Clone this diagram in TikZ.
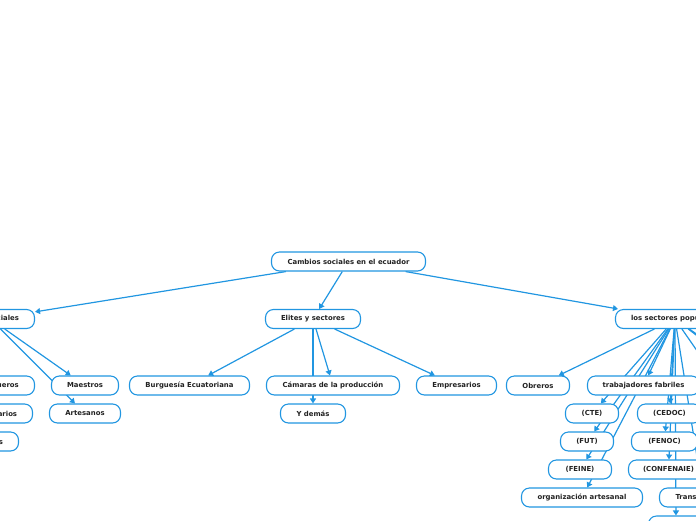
\documentclass[tikz,border=0pt]{standalone}
\usepackage{fontspec}
\setmainfont{DejaVu Sans}
\usetikzlibrary{arrows.meta,backgrounds}
\definecolor{mapblue}{RGB}{33,150,225}
\definecolor{maptext}{RGB}{34,34,34}
\tikzset{
	idea/.style={draw=mapblue, fill=white, rounded corners=8pt, line width=1.1pt,
		minimum height=19pt, inner xsep=4pt, inner ysep=0pt, text=maptext,
		font=\bfseries\fontsize{6.9}{8}\selectfont},
	link/.style={draw=mapblue, line width=1.2pt, -{Triangle[length=5pt,width=6pt]}}
}
\begin{document}
\begin{tikzpicture}[x=1pt,y=-1pt]
	\useasboundingbox (0,0) rectangle (696,520);
	\node[idea, minimum width=154pt] (cambios) at (348.5,261.5) {Cambios sociales en el ecuador};
	\node[idea, minimum width=88pt] (capas) at (-9.5,319) {Capas sociales};
	\node[idea, minimum width=95pt] (elites) at (313,319) {Elites y sectores};
	\node[idea, minimum width=119pt] (populares) at (675,319) {los sectores populares};
	\node[idea, minimum width=73pt] (banqueros) at (-2,385.5) {Banqueros};
	\node[idea, minimum width=67pt] (maestros) at (85,385.5) {Maestros};
	\node[idea, minimum width=120pt] (burguesia) at (189.5,385.5) {Burguesía Ecuatoriana};
	\node[idea, minimum width=133pt] (camaras) at (333,385.5) {Cámaras de la producción};
	\node[idea, minimum width=80pt] (empresarios) at (456.5,385.5) {Empresarios};
	\node[idea, minimum width=63pt] (obreros) at (538,385.5) {Obreros};
	\node[idea, minimum width=112pt] (fabriles) at (643.5,385.5) {trabajadores fabriles};
	\node[idea, minimum width=69pt] (bancarios) at (-2,413.5) {Bancarios};
	\node[idea, minimum width=71pt] (artesanos) at (85,413.5) {Artesanos};
	\node[idea, minimum width=65pt] (demas) at (313,413.5) {Y demás};
	\node[idea, minimum width=53pt] (cte) at (592,413.5) {(CTE)};
	\node[idea, minimum width=64pt] (cedoc) at (669.5,413.5) {(CEDOC)};
	\node[idea, minimum width=77pt] (estudiantes) at (-20,441.5) {Estudiantes};
	\node[idea, minimum width=53pt] (fut) at (587,441.5) {(FUT)};
	\node[idea, minimum width=66pt] (fenoc) at (664.5,441.5) {(FENOC)};
	\node[idea, minimum width=63pt] (feine) at (580,469.5) {(FEINE)};
	\node[idea, minimum width=80pt] (confenaie) at (668.5,469.5) {(CONFENAIE)};
	\node[idea, minimum width=121pt] (artesanal) at (582,497.5) {organización artesanal};
	\node[idea, minimum width=88pt] (transporte) at (703.5,497.5) {Transportistas};
	\node[idea, minimum width=55pt] (siguiente) at (676,525.5) {};
	\coordinate (popA) at (770,385.5);
	\coordinate (popB) at (800,413.5);
	\coordinate (popC) at (760,441.5);
	\begin{pgfonlayer}{background}
		\draw[link] (cambios) -- (capas);
		\draw[link] (cambios) -- (elites);
		\draw[link] (cambios) -- (populares);
		\draw[link] (capas) -- (banqueros);
		\draw[link] (capas) -- (bancarios);
		\draw[link] (capas) -- (estudiantes);
		\draw[link] (capas) -- (maestros);
		\draw[link] (capas) -- (artesanos);
		\draw[link] (elites) -- (burguesia);
		\draw[link] (elites) -- (camaras);
		\draw[link] (elites) -- (demas);
		\draw[link] (elites) -- (empresarios);
		\draw[link] (populares) -- (obreros);
		\draw[link] (populares) -- (fabriles);
		\draw[link] (populares) -- (cte);
		\draw[link] (populares) -- (fut);
		\draw[link] (populares) -- (feine);
		\draw[link] (populares) -- (artesanal);
		\draw[link] (populares) -- (cedoc);
		\draw[link] (populares) -- (fenoc);
		\draw[link] (populares) -- (confenaie);
		\draw[link] (populares) -- (transporte);
		\draw[link] (populares) -- (siguiente);
		\draw[link] (populares) -- (popA);
		\draw[link] (populares) -- (popB);
		\draw[link] (populares) -- (popC);
	\end{pgfonlayer}
\end{tikzpicture}
\end{document}
